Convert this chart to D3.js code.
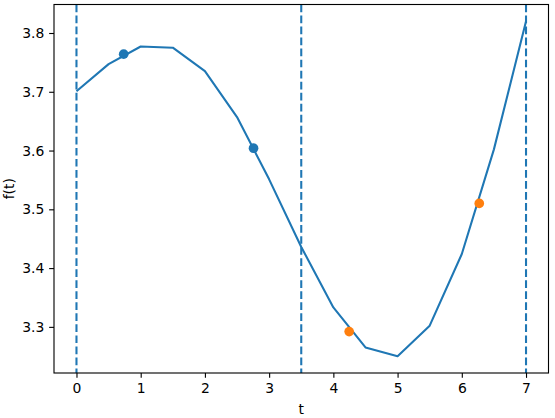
<!DOCTYPE html>
<html><head><meta charset="utf-8">
<script src="https://cdn.jsdelivr.net/npm/d3@7"></script>
<style>body{margin:0;background:#fff}svg{display:block}text{font-family:"DejaVu Sans",sans-serif}</style>
</head><body><svg id="c" width="555" height="418"></svg>
<script>
const tValues = [0, 0.5, 1, 1.5, 2, 2.5, 3, 3.5, 4, 4.5, 5, 5.5, 6, 6.5, 7];
const fValues = [3.701, 3.747, 3.777, 3.775, 3.735, 3.657, 3.551, 3.436, 3.333, 3.265, 3.250, 3.302, 3.424, 3.602, 3.820];
const bluePointsT = [0.735, 2.757];
const bluePointsF = [3.764, 3.604];
const orangePointsT = [4.246, 6.272];
const orangePointsF = [3.292, 3.510];
const vlines = [0, 3.5, 7];
const xTicks = [0, 1, 2, 3, 4, 5, 6, 7];
const yTicks = [3.3, 3.4, 3.5, 3.6, 3.7, 3.8];

const L = 54, R = 548.5, T = 4.5, B = 373;
const svg = d3.select("#c");
const xmin = 0, xmax = 7;
const xpad = (xmax - xmin) * 0.05;
const fmin = d3.min(fValues), fmax = d3.max(fValues);
const ypad = (fmax - fmin) * 0.05;
const x = d3.scaleLinear().domain([xmin - xpad, xmax + xpad]).range([L, R]);
const y = d3.scaleLinear().domain([fmin - ypad, fmax + ypad]).range([B, T]);

const blue = "#1f77b4", orange = "#ff7f0e";
const g = svg.append("g");
g.selectAll("line.v").data(vlines).enter().append("line")
  .attr("x1", d => x(d)).attr("x2", d => x(d)).attr("y1", T).attr("y2", B)
  .attr("stroke", blue).attr("stroke-width", 2.08).attr("stroke-dasharray", "7.7,3.33");

const line = d3.line().x((d, i) => x(tValues[i])).y(d => y(d));
g.append("path").datum(fValues).attr("d", line).attr("fill", "none")
  .attr("stroke", blue).attr("stroke-width", 2.08).attr("stroke-linejoin", "round").attr("stroke-linecap", "butt");

g.selectAll("circle.b").data(bluePointsT).enter().append("circle")
  .attr("cx", d => x(d)).attr("cy", (d, i) => y(bluePointsF[i])).attr("r", 4.85).attr("fill", blue);
g.selectAll("circle.o").data(orangePointsT).enter().append("circle")
  .attr("cx", d => x(d)).attr("cy", (d, i) => y(orangePointsF[i])).attr("r", 4.85).attr("fill", orange);

const xa = svg.append("g").attr("transform", `translate(0,${B})`)
  .call(d3.axisBottom(x).tickValues(xTicks).tickFormat(d3.format("d")).tickSizeInner(4.86).tickSizeOuter(0).tickPadding(4.9));
const ya = svg.append("g").attr("transform", `translate(${L},0)`)
  .call(d3.axisLeft(y).tickValues(yTicks).tickFormat(d3.format(".1f")).tickSizeInner(4.86).tickSizeOuter(0).tickPadding(4.9));
[xa, ya].forEach(a => {
  a.select(".domain").remove();
  a.selectAll(".tick line").attr("stroke", "#000").attr("stroke-width", 1.11);
  a.selectAll(".tick text").attr("fill", "#000").style("font-size", "13.9px").style("font-family", "DejaVu Sans");
});
svg.append("rect").attr("x", L).attr("y", T).attr("width", R - L).attr("height", B - T)
  .attr("fill", "none").attr("stroke", "#000").attr("stroke-width", 1.11);

svg.append("text").attr("x", (L + R) / 2).attr("y", 414).attr("text-anchor", "middle")
  .style("font-size", "13.9px").text("t");
svg.append("text").attr("transform", `translate(14,${(T + B) / 2}) rotate(-90)`).attr("text-anchor", "middle")
  .style("font-size", "13.9px").text("f(t)");
</script></body></html>
